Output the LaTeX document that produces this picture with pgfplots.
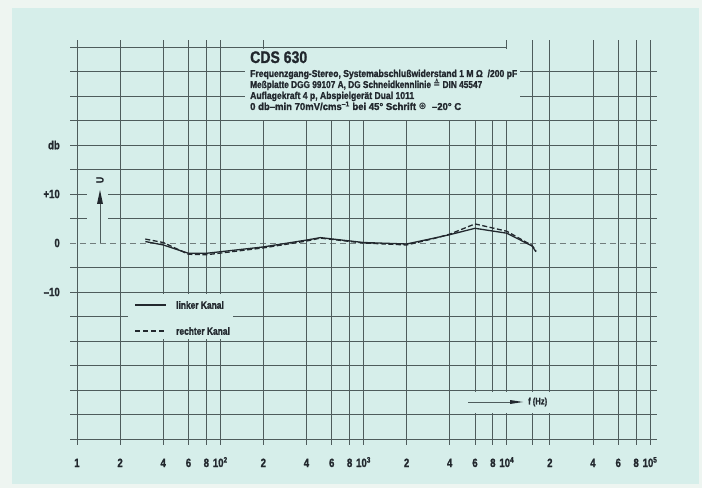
\documentclass[border=0pt]{standalone}
\usepackage{pgfplots}
\pgfplotsset{compat=1.18}
\usepackage{fontspec}
\setmainfont{Liberation Sans}[FakeStretch=0.8, BoldFont={Liberation Sans Bold}, BoldFeatures={FakeBold=1.2}]
\newfontfamily\dejavu{DejaVu Sans}[FakeStretch=0.8]
\definecolor{bgc}{RGB}{214,238,234}
\definecolor{outerc}{RGB}{238,245,241}
\definecolor{gridc}{RGB}{78,92,92}
\definecolor{inkc}{RGB}{34,40,46}

\begin{document}
\begin{tikzpicture}[x=1pt,y=1pt]
\fill[outerc] (0,0) rectangle (702,488);
\fill[bgc] (12,4) rectangle (699,480);
\begin{axis}[
  at={(77pt,49pt)}, anchor=south west,
  scale only axis, width=573pt, height=392pt,
  xmode=log, xmin=10, xmax=100000, ymin=-40, ymax=40,
  axis line style={draw=none}, tick style={draw=none},
  clip=false,
  font=\bfseries\fontsize{12}{13}\selectfont,
  xtick={10,20,40,60,80,100,200,400,600,800,1000,2000,4000,6000,8000,10000,20000,40000,60000,80000,100000},
  xticklabels={1,2,4,6,8,10\textsuperscript{2},2,4,6,8,10\textsuperscript{3},2,4,6,8,10\textsuperscript{4},2,4,6,8,10\textsuperscript{5}},
  xticklabel style={anchor=base, inner sep=0pt, yshift=-28pt, text=inkc},
  ytick={-10,0,10,20},
  yticklabels={--10,0,+10,db},
  yticklabel style={anchor=east, inner sep=0pt, xshift=-17pt, text=inkc},
]
% grid: horizontal lines every 5 dB
\pgfplotsinvokeforeach{-40,-35,-30,-25,-20,-15,-10,-5,5,10,15,20,25,30,35}{
  \draw[gridc, line width=0.85pt] (axis cs:8.94,#1) -- (axis cs:112000,#1);
}
\draw[gridc, line width=0.85pt] (axis cs:8.94,40) -- (axis cs:10000,40);
\draw[gridc!80, line width=0.8pt, dash pattern=on 6pt off 4pt] (axis cs:8.94,0) -- (axis cs:112000,0);
% grid: vertical lines
\pgfplotsinvokeforeach{10,20,40,60,80,100,15000,20000,40000,60000,80000,100000}{
  \draw[gridc, line width=0.95pt] (axis cs:#1,-41.2) -- (axis cs:#1,41.4);
}
\pgfplotsinvokeforeach{200,400,600,800,1000,2000,4000,6000,8000,10000}{
  \draw[gridc, line width=0.95pt] (axis cs:#1,-41.2) -- (axis cs:#1,25);
}
\pgfplotsinvokeforeach{200,10000}{
  \draw[gridc, line width=0.95pt] (axis cs:#1,39) -- (axis cs:#1,41.4);
}
% linker Kanal
\addplot[inkc, line width=1.3pt] coordinates {
  (30,0.3) (40,-0.4) (60,-2.1) (80,-2.1) (200,-0.8) (400,0.6) (500,1.1)
  (1000,0.1) (2000,-0.2) (3000,0.9) (4000,1.7) (6000,3.0) (10000,2.0)
  (15000,-0.6) (16000,-1.8)
};
% rechter Kanal
\addplot[inkc, line width=1.3pt, dash pattern=on 5pt off 2.5pt] coordinates {
  (30,0.8) (40,0.1) (60,-2.3) (80,-2.4) (200,-1.0) (400,0.4) (500,1.0)
  (1000,0.0) (2000,-0.4) (3000,0.8) (4000,1.8) (6000,3.9) (10000,2.4)
  (15000,-0.5) (16000,-1.6)
};
\end{axis}
% gaps in the printed grid
\fill[bgc] (245,439) rectangle (520,369);
\fill[bgc] (128,194) rectangle (233,149);
\fill[bgc] (87,298) rectangle (108,266);
\fill[bgc] (460,96) rectangle (555,75);
% heading
\begin{scope}[every node/.style={anchor=base west, inner sep=0pt, text=inkc, font=\bfseries}]
\node at (250,{488-63}) {\fontsize{16.8}{18}\selectfont\resizebox{57pt}{\height}{CDS 630}};
\node at (250,{488-77}) {\fontsize{10}{11}\selectfont\resizebox{267pt}{\height}{Frequenzgang-Stereo, Systemabschlußwiderstand 1 M Ω \ /200 pF}};
\node at (250,{488-88}) {\fontsize{10}{11}\selectfont\resizebox{232pt}{\height}{Meßplatte DGG 99107 A, DG Schneidkennlinie {\dejavu\bfseries ≙} DIN 45547}};
\node at (250,{488-99}) {\fontsize{10}{11}\selectfont\resizebox{164pt}{\height}{Auflagekraft 4 p, Abspielgerät Dual 1011}};
\node at (250,{488-110}) {\fontsize{10}{11}\selectfont\resizebox{211pt}{\height}{0 db--min 70mV/cms\textsuperscript{--1} bei 45° Schrift {\dejavu ⊛} \ --20° C}};
\end{scope}
% legend
\draw[inkc, line width=1.5pt] (135,183) -- (166,183);
\draw[inkc, line width=1.5pt, dash pattern=on 5pt off 3pt] (135,157) -- (166,157);
\node[anchor=west, inner sep=0pt, text=inkc, font=\bfseries\fontsize{10.5}{11}\selectfont] at (176,183) {linker Kanal};
\node[anchor=west, inner sep=0pt, text=inkc, font=\bfseries\fontsize{10.5}{11}\selectfont] at (176,157) {rechter Kanal};
% U arrow
\draw[gridc, line width=0.6pt] (100,{488-243}) -- (100,{488-203});
\fill[inkc] (97,{488-204}) -- (103,{488-204}) -- (100,{488-190}) -- cycle;
\node[rotate=90, inner sep=0pt, text=inkc, font=\bfseries\fontsize{10.5}{11}\selectfont] at (100,{488-180}) {U};
% f (Hz) arrow
\draw[gridc, line width=0.6pt] (468,86) -- (512,86);
\fill[inkc] (510,88) -- (523,86) -- (510,84) -- cycle;
\node[anchor=west, inner sep=0pt, text=inkc, font=\bfseries\fontsize{9.5}{10}\selectfont] at (528,86) {f (Hz)};
\pgfresetboundingbox
\path (0,0) rectangle (702,488);
\end{tikzpicture}
\end{document}
